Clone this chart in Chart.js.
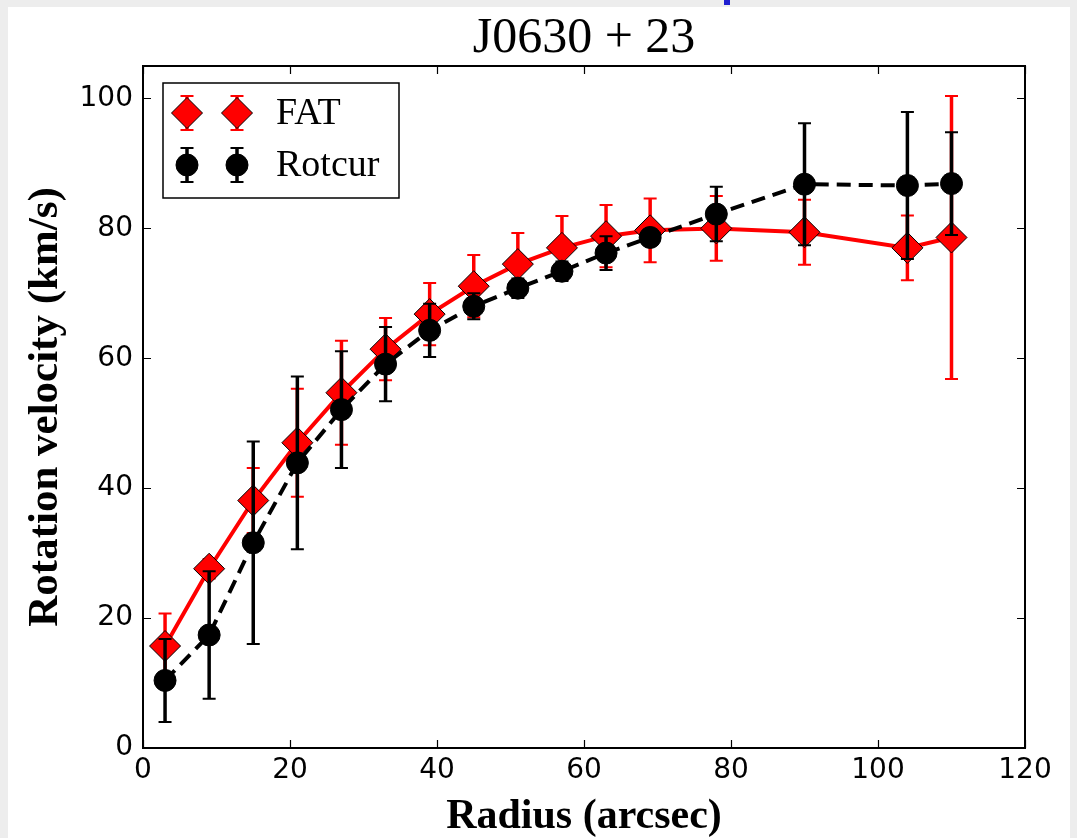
<!DOCTYPE html>
<html>
<head>
<meta charset="utf-8">
<script src="https://cdn.jsdelivr.net/npm/chart.js@4.4.1/dist/chart.umd.min.js"></script>
<style>
  html, body { margin: 0; padding: 0; background: #ededed; }
  #wrap { position: absolute; left: 8px; top: 7px; width: 1062px; height: 831px; background: #fff; }
  #mark { position: absolute; left: 724px; top: 0; width: 6px; height: 5px; background: #1f1fd0; }
</style>
</head>
<body>
<div id="mark"></div>
<div id="wrap"><canvas id="myChart" width="1062" height="831"></canvas></div>
<script>
const radius = [3, 9, 15, 21, 27, 33, 39, 45, 51, 57, 63, 69, 78, 90, 104, 110];

const fatVel = [15.7, 27.6, 38.1, 47.0, 54.7, 61.4, 66.8, 71.1, 74.5, 77.0, 78.8, 79.7, 80.0, 79.4, 77.0, 78.6];
const fatErr = [5.0, 1.5, 5.0, 8.3, 8.0, 4.8, 4.8, 4.8, 4.8, 4.9, 4.8, 4.9, 5.0, 5.0, 5.0, 21.8];

const rotVel = [10.4, 17.4, 31.6, 43.9, 52.1, 59.1, 64.3, 68.0, 70.8, 73.4, 76.2, 78.6, 82.2, 86.8, 86.6, 86.9];
const rotErr = [6.4, 9.8, 15.6, 13.3, 9.0, 5.7, 4.1, 2.0, 1.5, 1.5, 2.6, 1.0, 4.2, 9.4, 11.3, 7.9];

const xTicks = [0, 20, 40, 60, 80, 100, 120];
const yTicks = [0, 20, 40, 60, 80, 100];

const serif = '"Liberation Serif", "DejaVu Serif", serif';
const sans = '"DejaVu Sans", sans-serif';

function pts(ys) {
    return radius.map((r, i) => ({ x: r, y: ys[i] }));
}

// error bars, drawn before each dataset so markers sit on top
const errorBars = {
    id: 'errorBars',
    beforeDatasetDraw(chart, args) {
        const ds = chart.data.datasets[args.index];
        const ctx = chart.ctx;
        const xs = chart.scales.x, ys = chart.scales.y;
        ctx.save();
        ctx.strokeStyle = ds.errColor;
        ds.data.forEach((p, i) => {
            const px = xs.getPixelForValue(p.x);
            const top = ys.getPixelForValue(p.y + ds.err[i]);
            const bot = ys.getPixelForValue(p.y - ds.err[i]);
            ctx.lineWidth = 3.5;
            ctx.beginPath();
            ctx.moveTo(px, top);
            ctx.lineTo(px, bot);
            ctx.stroke();
            ctx.lineWidth = 2;
            ctx.beginPath();
            ctx.moveTo(px - 6.5, top); ctx.lineTo(px + 6.5, top);
            ctx.moveTo(px - 6.5, bot); ctx.lineTo(px + 6.5, bot);
            ctx.stroke();
        });
        ctx.restore();
    }
};

// frame, inward ticks on all sides, legend box
const frame = {
    id: 'frame',
    afterDraw(chart) {
        const ctx = chart.ctx;
        const a = chart.chartArea;
        const xs = chart.scales.x, ys = chart.scales.y;
        ctx.save();
        ctx.strokeStyle = '#000';
        ctx.lineWidth = 1.2;
        ctx.beginPath();
        xTicks.forEach(v => {
            const px = Math.round(xs.getPixelForValue(v)) + 0.5;
            ctx.moveTo(px, a.bottom); ctx.lineTo(px, a.bottom - 8);
            ctx.moveTo(px, a.top); ctx.lineTo(px, a.top + 8);
        });
        yTicks.forEach(v => {
            const py = Math.round(ys.getPixelForValue(v)) + 0.5;
            ctx.moveTo(a.left, py); ctx.lineTo(a.left + 8, py);
            ctx.moveTo(a.right, py); ctx.lineTo(a.right - 8, py);
        });
        ctx.stroke();
        ctx.lineWidth = 2;
        ctx.strokeRect(a.left, a.top, a.right - a.left, a.bottom - a.top);

        // legend
        const lx = 155, ly = 76, lw = 236, lh = 115;
        ctx.fillStyle = '#fff';
        ctx.fillRect(lx, ly, lw, lh);
        ctx.lineWidth = 1.5;
        ctx.strokeRect(lx, ly, lw, lh);
        const rows = [{ ds: chart.data.datasets[0], y: ly + 30 }, { ds: chart.data.datasets[1], y: ly + 82 }];
        rows.forEach(row => {
            [179, 229].forEach(mx => {
                ctx.strokeStyle = row.ds.errColor;
                ctx.lineWidth = 3.5;
                ctx.beginPath();
                ctx.moveTo(mx, row.y - 17); ctx.lineTo(mx, row.y + 17);
                ctx.stroke();
                ctx.lineWidth = 2;
                ctx.beginPath();
                ctx.moveTo(mx - 6.5, row.y - 17); ctx.lineTo(mx + 6.5, row.y - 17);
                ctx.moveTo(mx - 6.5, row.y + 17); ctx.lineTo(mx + 6.5, row.y + 17);
                ctx.stroke();
                ctx.fillStyle = row.ds.pointBackgroundColor;
                ctx.strokeStyle = '#000';
                ctx.lineWidth = 1;
                Chart.helpers.drawPoint(ctx, {
                    pointStyle: row.ds.pointStyle,
                    radius: row.ds.pointRadius,
                    rotation: 0,
                    borderWidth: 1
                }, mx, row.y);
            });
            ctx.fillStyle = '#000';
            ctx.font = '38px ' + serif;
            ctx.textBaseline = 'middle';
            ctx.textAlign = 'left';
            ctx.fillText(row.ds.label, 268, row.y + 1);
        });
        ctx.restore();
    }
};

var ctx = document.getElementById('myChart').getContext('2d');

var myChart = new Chart(ctx, {
    type: 'line',
    data: {
        datasets: [{
            label: 'FAT',
            data: pts(fatVel),
            err: fatErr,
            errColor: '#ff0000',
            borderColor: '#ff0000',
            borderWidth: 4,
            pointStyle: 'rectRot',
            pointRadius: 15.5,
            pointBackgroundColor: '#ff0000',
            pointBorderColor: '#000',
            pointBorderWidth: 1,
            tension: 0,
            order: 2
        }, {
            label: 'Rotcur',
            data: pts(rotVel),
            err: rotErr,
            errColor: '#000000',
            borderColor: '#000000',
            borderWidth: 4,
            borderDash: [14, 8],
            pointStyle: 'circle',
            pointRadius: 11,
            pointBackgroundColor: '#000',
            pointBorderColor: '#000',
            pointBorderWidth: 1,
            tension: 0,
            order: 1
        }]
    },
    options: {
        responsive: false,
        animation: false,
        events: [],
        layout: { padding: { top: 0, right: 45, bottom: 0, left: 0 } },
        plugins: {
            legend: { display: false },
            tooltip: { enabled: false },
            title: {
                display: true,
                fullSize: false,
                text: 'J0630 + 23',
                color: '#000',
                font: { family: serif, size: 50, weight: 'normal', lineHeight: 1.1 },
                padding: { top: 4, bottom: 0 }
            }
        },
        scales: {
            x: {
                type: 'linear',
                min: 0,
                max: 120,
                afterBuildTicks: s => { s.ticks = xTicks.map(v => ({ value: v })); },
                afterFit: s => { s.height = 90; },
                grid: { display: false, drawTicks: false },
                border: { display: false },
                ticks: { color: '#000', font: { family: sans, size: 28 }, padding: 6, maxRotation: 0 },
                title: {
                    display: true,
                    text: 'Radius (arcsec)',
                    color: '#000',
                    font: { family: serif, size: 42, weight: 'bold', lineHeight: 1 },
                    padding: { top: 2, bottom: 0 }
                }
            },
            y: {
                min: 0,
                max: 105,
                afterBuildTicks: s => { s.ticks = yTicks.map(v => ({ value: v })); },
                afterFit: s => { s.width = 135; },
                grid: { display: false, drawTicks: false },
                border: { display: false },
                ticks: { color: '#000', font: { family: sans, size: 28 }, padding: 10 },
                title: {
                    display: true,
                    text: 'Rotation velocity (km/s)',
                    color: '#000',
                    font: { family: serif, size: 43, weight: 'bold', lineHeight: 1 },
                    padding: { top: 16, bottom: 0 }
                }
            }
        }
    },
    plugins: [errorBars, frame]
});
</script>
</body>
</html>
